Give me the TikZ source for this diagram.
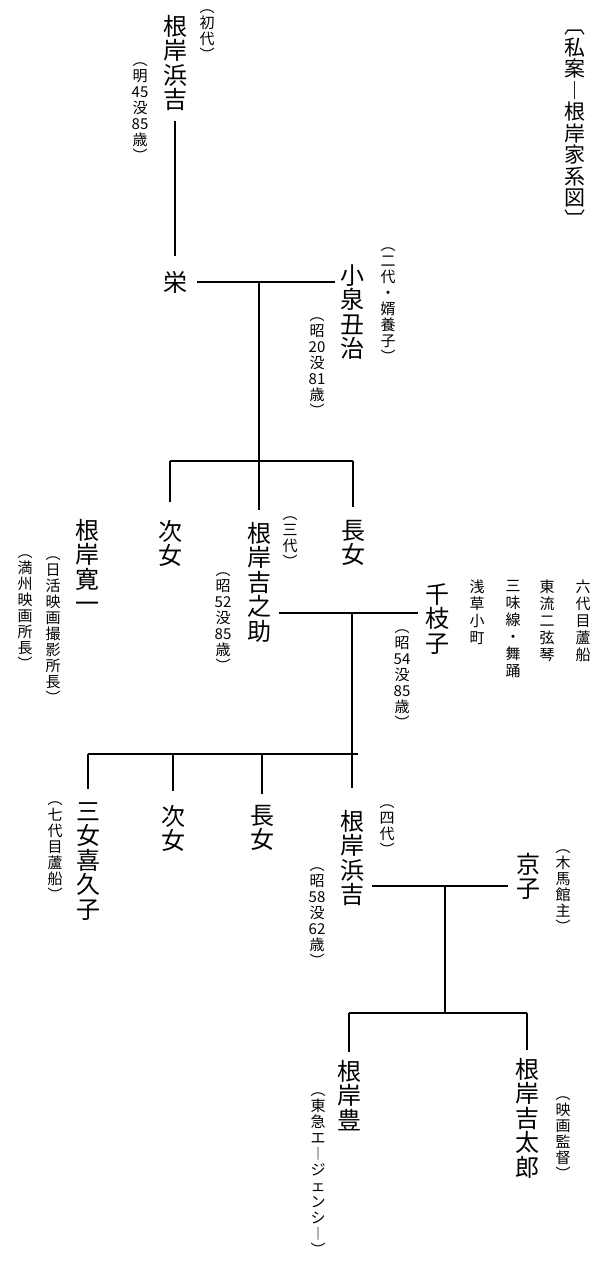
\documentclass[tikz,border=0pt]{standalone}
\usepackage{fontspec}
\setmainfont{Noto Sans CJK JP}
\usetikzlibrary{calc}
\newcommand\namesz{\fontsize{24bp}{24.5bp}\selectfont\lineskiplimit=-50pt}
\newcommand\notesz{\fontsize{15bp}{16bp}\selectfont\lineskiplimit=-50pt}
\newcommand\memosz{\fontsize{15bp}{17bp}\selectfont\lineskiplimit=-50pt}
\newcommand\titlesz{\fontsize{21bp}{21.5bp}\selectfont\lineskiplimit=-50pt}

\begin{document}
\begin{tikzpicture}[x=1bp,y=-1bp,
  person/.style={font=\namesz, inner sep=0pt, align=center, anchor=north},
  note/.style={font=\notesz, inner sep=0pt, align=center, anchor=north},
  memo/.style={font=\memosz, inner sep=0pt, align=center, anchor=north},
  heading/.style={font=\titlesz, inner sep=0pt, align=center, anchor=north},
  link/.style={line width=1.7bp}]
\fill[white] (0,0) rectangle (604,1281);
\useasboundingbox (0,0) rectangle (604,1281);
\node[heading] (title) at (575,30) {︹\\私\\案\\︱\\根\\岸\\家\\系\\図\\︺};
% 初代
\node[person] (hama1) at (175,15) {根\\岸\\浜\\吉};
\node[note] (gen1) at (207,10) {︵\\初\\代\\︶};
\node[note] (hama1d) at (140,63) {︵\\明\\45\\没\\85\\歳\\︶};
\node[person] (sakae) at (175,271) {栄};
% 二代
\node[person] (ushiji) at (352,264) {小\\泉\\丑\\治};
\node[note] (gen2) at (388,248) {︵\\二\\代\\・\\婿\\養\\子\\︶};
\node[note] (ushijid) at (317,318) {︵\\昭\\20\\没\\81\\歳\\︶};
\node[person] (jijo1) at (170,520) {次\\女};
\node[person] (kichi) at (259,522) {根\\岸\\吉\\之\\助};
\node[person] (chojo1) at (353,520) {長\\女};
\node[note] (gen3) at (290,517) {︵\\三\\代\\︶};
\node[note] (kichid) at (223,573) {︵\\昭\\52\\没\\85\\歳\\︶};
\node[person] (kanichi) at (87,519) {根\\岸\\寛\\一};
\node[note] (kanichin1) at (53,557) {︵\\日\\活\\映\\画\\撮\\影\\所\\長\\︶};
\node[note] (kanichin2) at (25,555) {︵\\満\\州\\映\\画\\所\\長\\︶};
% 三代
\node[person] (chieko) at (437,583) {千\\枝\\子};
\node[note] (chiekod) at (402,630) {︵\\昭\\54\\没\\85\\歳\\︶};
\node[memo] (memo1) at (477,580) {浅\\草\\小\\町};
\node[memo] (memo2) at (513,580) {三\\味\\線\\・\\舞\\踊};
\node[memo] (memo3) at (547,580) {東\\流\\二\\弦\\琴};
\node[memo] (memo4) at (583,580) {六\\代\\目\\蘆\\船};
\node[person] (kikuko) at (88,802) {三\\女\\喜\\久\\子};
\node[note] (kikukon) at (55,802) {︵\\七\\代\\目\\蘆\\船\\︶};
\node[person] (jijo2) at (173,805) {次\\女};
\node[person] (chojo2) at (262,805) {長\\女};
\node[person] (hama4) at (352,810) {根\\岸\\浜\\吉};
\node[note] (gen4) at (387,805) {︵\\四\\代\\︶};
\node[note] (hama4d) at (317,868) {︵\\昭\\58\\没\\62\\歳\\︶};
% 四代
\node[person] (kyoko) at (528,853) {京\\子};
\node[note] (kyokon) at (563,850) {︵\\木\\馬\\館\\主\\︶};
\node[person] (yutaka) at (349,1060) {根\\岸\\豊};
\node[note] (yutakan) at (318,1093) {︵\\東\\急\\エ\\︱\\ジ\\ェ\\ン\\シ\\︱\\︶};
\node[person] (kichitaro) at (527,1058) {根\\岸\\吉\\太\\郎};
\node[note] (kichitaron) at (563,1097) {︵\\映\\画\\監\\督\\︶};

\coordinate (b1) at (0,461);
\coordinate (m2) at (0,613);
\coordinate (b2) at (0,754);
\coordinate (m3) at (0,886);
\coordinate (c3) at (445,886);
\coordinate (b3) at (0,1013);

\draw[link, shorten <=10bp, shorten >=15bp] (hama1) -- (sakae);
\draw[link, shorten <=10bp, shorten >=5bp] (sakae.east) -- (sakae.east -| ushiji.west);
\draw[link, shorten >=12bp] (sakae.east -| kichi.north) -- (kichi.north);
\draw[link] (jijo1.north |- b1) -- (chojo1.north |- b1);
\draw[link, shorten >=18bp] (jijo1.north |- b1) -- (jijo1.north);
\draw[link, shorten >=13bp] (chojo1.north |- b1) -- (chojo1.north);

\draw[link, shorten <=8bp, shorten >=7bp] (kichi.east |- m2) -- (chieko.west |- m2);
\draw[link, shorten >=22bp] (hama4.north |- m2) -- (hama4.north);
\draw[link] (kikuko.north |- b2) -- ([xshift=6bp]hama4.north |- b2);
\draw[link, shorten >=13bp] (kikuko.north |- b2) -- (kikuko.north);
\draw[link, shorten >=14bp] (jijo2.north |- b2) -- (jijo2.north);
\draw[link, shorten >=11bp] (chojo2.north |- b2) -- (chojo2.north);

\draw[link, shorten <=8bp, shorten >=8bp] (hama4.east |- m3) -- (kyoko.west |- m3);
\draw[link] (c3) -- (c3 |- b3);
\draw[link] (yutaka.north |- b3) -- (kichitaro.north |- b3);
\draw[link, shorten >=8bp] (yutaka.north |- b3) -- (yutaka.north);
\draw[link, shorten >=8bp] (kichitaro.north |- b3) -- (kichitaro.north);
\end{tikzpicture}
\end{document}
